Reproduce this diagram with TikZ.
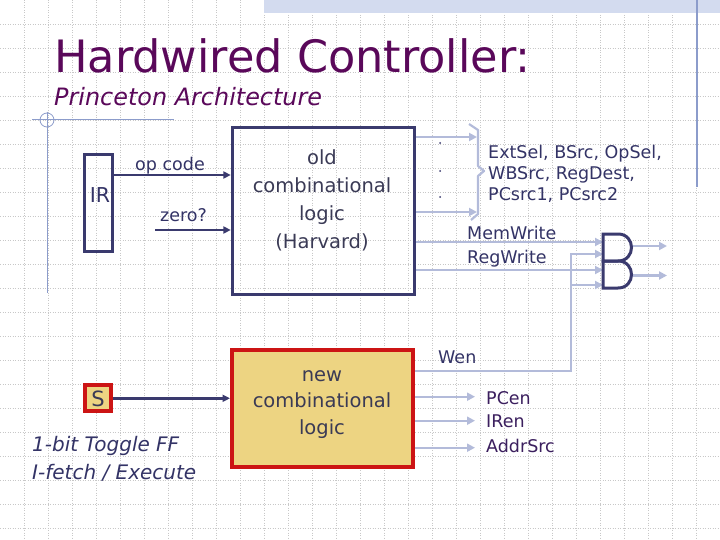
\documentclass[tikz,border=0pt]{standalone}
\usepackage{fontspec}
\setmainfont{DejaVu Sans}
\usetikzlibrary{arrows.meta}
\definecolor{titlec}{HTML}{5A085A}
\definecolor{navy}{HTML}{3A3A6E}
\definecolor{txt}{HTML}{333366}
\definecolor{boxtxt}{HTML}{3A3A55}
\definecolor{lite}{HTML}{B3BBDA}
\definecolor{khaki}{HTML}{EDD482}
\definecolor{redb}{HTML}{CC1414}
\definecolor{gridc}{HTML}{C8C8C8}
\definecolor{deco}{HTML}{8C9CCB}
\definecolor{band}{HTML}{D3DBEF}
\definecolor{outtxt}{HTML}{3B1F5E}
\newcommand{\myfs}[2]{\fontsize{#1}{#2}\selectfont}
\begin{document}
\begin{tikzpicture}[x=1pt,y=-1pt,
  gridline/.style={gridc, line width=0.8pt, dash pattern=on 1pt off 1.5pt},
  darrow/.style={navy, line width=2.6pt, -{Triangle[length=7.5pt,width=7pt]}},
  larrow/.style={lite, line width=2.2pt, -{Triangle[length=8pt,width=8pt]}},
  lline/.style={lite, line width=2.2pt},
  boxd/.style={draw=navy, line width=3pt, inner sep=0pt},
  boxn/.style={draw=redb, fill=khaki, line width=4pt, inner sep=0pt},
  lbl/.style={text=txt, inner sep=0pt, font=\myfs{17.5}{21}},
  outl/.style={text=outtxt, inner sep=0pt, font=\myfs{17.5}{21}},
  gate/.style={navy, line width=3pt, line join=miter}]
\useasboundingbox (0,0) rectangle (720,540);
\fill[white] (0,0) rectangle (720,540);
% background grid
\foreach \x in {24,48,...,696} \draw[gridline] (\x,0) -- (\x,540);
\foreach \y in {24,48,...,528} \draw[gridline] (0,\y) -- (720,\y);
\fill[band] (264,0) rectangle (720,13);
% decorations
\draw[deco, line width=1.5pt] (697,0) -- (697,187);
\draw[deco, line width=1pt] (32,120) -- (174,120);
\draw[deco, line width=1pt] (47,112) -- (47,293);
\draw[deco, line width=0.8pt] (47,120) circle (7pt);
% titles
\node[anchor=base west, text=titlec, inner sep=0pt, font=\myfs{44.6}{50}] (title) at (54,73) {Hardwired Controller:};
\node[anchor=base west, text=titlec, inner sep=0pt, font=\myfs{23.9}{28}\itshape] (subtitle) at (54,106) {Princeton Architecture};
% IR
\node[boxd, minimum width=28pt, minimum height=97pt] (ir) at (98.5,203) {};
\node[anchor=base, text=txt, inner sep=0pt, font=\myfs{20.5}{24}] (irl) at (100,203) {IR};
% old logic
\node[boxd, minimum width=182pt, minimum height=167pt] (old) at (323.3,210.8) {};
\node[text=boxtxt, inner sep=0pt, align=center, font=\myfs{19.5}{27.7}] (oldt) at (322,200.4) {old\\combinational\\logic\\(Harvard)};
% new logic
\node[boxn, minimum width=181pt, minimum height=117.6pt] (new) at (322.5,408.5) {};
\node[text=boxtxt, inner sep=0pt, align=center, font=\myfs{19.5}{26.7}] (newt) at (322,404.5) {new\\combinational\\logic};
% S flip flop
\node[boxn, minimum width=26pt, minimum height=26pt] (s) at (98.3,398.3) {};
\node[anchor=base, text=boxtxt, inner sep=0pt, font=\myfs{21}{24}] (sl) at (98,406) {S};
\node[anchor=base west, text=txt, inner sep=0pt, font=\myfs{20}{24}\itshape] (ff1) at (32,451.7) {1-bit Toggle FF};
\node[anchor=base west, text=txt, inner sep=0pt, font=\myfs{20}{24}\itshape] (ff2) at (32,479) {I-fetch / Execute};
% inputs
\coordinate (opy) at (0,175);
\coordinate (zs) at (155,230);
\draw[darrow] (ir.east |- opy) -- (old.west |- opy);
\draw[darrow] (zs) -- (old.west |- zs);
\node[lbl, anchor=base] (opl) at (170,170.5) {op code};
\node[lbl, anchor=base] (zl) at (183.5,221.7) {zero?};
\draw[darrow] (s.east) -- (new.west |- s.east);
% old outputs
\coordinate (b1) at (477,137);
\coordinate (b2) at (477,212);
\draw[larrow] (old.east |- b1) -- (b1);
\draw[larrow] (old.east |- b2) -- (b2);
\fill[navy] (440,143) circle (1pt);
\fill[navy] (440,171) circle (1pt);
\fill[navy] (440,197) circle (1pt);
\draw[lite, line width=2.2pt, line join=round] (469,124) -- (478,130) -- (478,166) -- (484,171) -- (478,176) -- (478,214) -- (471,220);
\node[lbl, anchor=west, align=left] (sigs) at (488,173.8) {ExtSel, BSrc, OpSel,\\WBSrc, RegDest,\\PCsrc1, PCsrc2};
% gates
\coordinate (g1a) at (603,242);
\coordinate (g1b) at (603,254);
\coordinate (g2a) at (603,270);
\coordinate (g2b) at (603,285);
\coordinate (g1o) at (632,246);
\coordinate (g1e) at (667,246);
\coordinate (g2o) at (632,275.5);
\coordinate (g2e) at (667,275.5);
\draw[larrow] (old.east |- g1a) -- (g1a);
\draw[larrow] (old.east |- g2a) -- (g2a);
\node[lbl, anchor=base west] (mw) at (467,239.3) {MemWrite};
\node[lbl, anchor=base west] (rw) at (467,263.3) {RegWrite};
\coordinate (wc) at (571,370.7);
\coordinate (wt) at (571,254);
\draw[larrow, line join=miter] (new.east |- wc) -- (wc) -- (wt) -- (g1b);
\draw[larrow] (wc |- g2b) -- (g2b);
\node[lbl, anchor=base west] (wen) at (438,363) {Wen};
\draw[larrow] (g1o) -- (g1e);
\draw[larrow] (g2o) -- (g2e);
\draw[gate] (603,234) -- (618,234) .. controls (636,234) and (636,261) .. (618,261) -- (603,261) -- cycle;
\draw[gate] (603,261) -- (618,261) .. controls (636,261) and (636,288) .. (618,288) -- (603,288) -- cycle;
% new outputs
\coordinate (n1) at (475,396.7);
\coordinate (n2) at (475,420.7);
\coordinate (n3) at (475,447.7);
\draw[larrow] (new.east |- n1) -- (n1);
\draw[larrow] (new.east |- n2) -- (n2);
\draw[larrow] (new.east |- n3) -- (n3);
\node[outl, anchor=base west] (pcen) at (486,404) {PCen};
\node[outl, anchor=base west] (iren) at (486,427.7) {IRen};
\node[outl, anchor=base west] (addr) at (486,452.7) {AddrSrc};
\end{tikzpicture}
\end{document}
